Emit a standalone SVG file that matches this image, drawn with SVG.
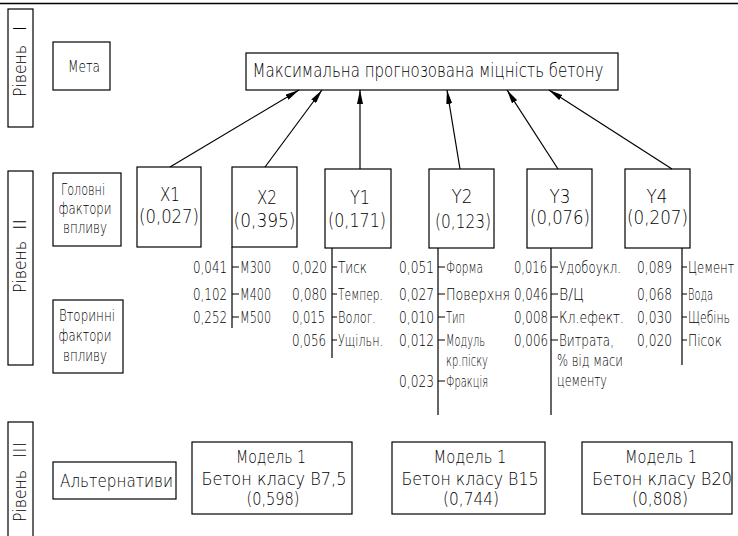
<svg xmlns="http://www.w3.org/2000/svg" width="738" height="536" viewBox="0 0 738 536">
<defs>
<marker id="ah" viewBox="0 0 14 6" refX="14" refY="3" markerWidth="14" markerHeight="6" markerUnits="userSpaceOnUse" orient="auto">
<path d="M0,0 L14,3 L0,6 Z" fill="#000"/>
</marker>
<style>
text{font-family:"DejaVu Sans","Liberation Sans",sans-serif;font-weight:200;fill:#000}
.box{fill:#fff;stroke:#000;stroke-width:1.2}
.ln{stroke:#000;stroke-width:1.2;fill:none}
.arr{stroke:#000;stroke-width:1.2;fill:none;marker-end:url(#ah)}
.t20{font-size:20px}
.t19{font-size:19px}
.t17{font-size:17px}
.t16{font-size:16px}
.t15{font-size:15px}
.c{text-anchor:middle}
</style>
</defs>
<rect width="738" height="536" fill="#fff"/>
<line x1="0" y1="3.5" x2="738" y2="3.5" stroke="#000" stroke-width="1.6"/>

<g id="level1">
<rect class="box" x="8" y="9" width="25" height="118"/>
<text class="t17" transform="translate(26,97) rotate(-90)" textLength="52" lengthAdjust="spacingAndGlyphs">Рівень</text>
<text class="t17" transform="translate(26,31) rotate(-90)">I</text>
</g>
<g id="level2">
<rect class="box" x="8" y="171" width="25" height="194"/>
<text class="t17" transform="translate(26,293) rotate(-90)" textLength="52" lengthAdjust="spacingAndGlyphs">Рівень</text>
<text class="t17" transform="translate(26,230) rotate(-90)" textLength="11" lengthAdjust="spacingAndGlyphs">II</text>
</g>
<g id="level3">
<rect class="box" x="8" y="422" width="25" height="120"/>
<text class="t17" transform="translate(26,522) rotate(-90)" textLength="52" lengthAdjust="spacingAndGlyphs">Рівень</text>
<text class="t17" transform="translate(26,458) rotate(-90)" textLength="16" lengthAdjust="spacingAndGlyphs">III</text>
</g>

<g id="meta">
<rect class="box" x="53" y="42" width="57" height="48"/>
<text class="t16 c" x="84" y="72" textLength="32" lengthAdjust="spacingAndGlyphs">Мета</text>
</g>
<g id="goal">
<rect class="box" x="246" y="53" width="372" height="37"/>
<text class="t20 c" x="428" y="77" textLength="351" lengthAdjust="spacingAndGlyphs">Максимальна прогнозована міцність бетону</text>
</g>

<g id="main-factors-label">
<rect class="box" x="53" y="173" width="68" height="73"/>
<text class="t15 c" x="83" y="195" textLength="44" lengthAdjust="spacingAndGlyphs">Головні</text>
<text class="t15 c" x="85" y="214" textLength="53" lengthAdjust="spacingAndGlyphs">фактори</text>
<text class="t15 c" x="85" y="233" textLength="44" lengthAdjust="spacingAndGlyphs">впливу</text>
</g>
<g id="secondary-factors-label">
<rect class="box" x="53" y="300" width="70" height="73"/>
<text class="t15 c" x="87" y="321" textLength="56" lengthAdjust="spacingAndGlyphs">Вторинні</text>
<text class="t15 c" x="85" y="341" textLength="53" lengthAdjust="spacingAndGlyphs">фактори</text>
<text class="t15 c" x="85" y="361" textLength="44" lengthAdjust="spacingAndGlyphs">впливу</text>
</g>

<g id="X1">
<rect class="box" x="137" y="167" width="64" height="80"/>
<text class="t19 c" x="170" y="201" textLength="20" lengthAdjust="spacingAndGlyphs">X1</text>
<text class="t19 c" x="169" y="223" textLength="60" lengthAdjust="spacingAndGlyphs">(0,027)</text>
</g>
<g id="X2">
<rect class="box" x="232" y="167" width="65" height="80"/>
<text class="t19 c" x="267" y="204" textLength="20" lengthAdjust="spacingAndGlyphs">X2</text>
<text class="t19 c" x="264.5" y="227" textLength="62" lengthAdjust="spacingAndGlyphs">(0,395)</text>
</g>
<g id="Y1">
<rect class="box" x="325" y="169" width="66" height="79"/>
<text class="t19 c" x="360" y="204" textLength="20" lengthAdjust="spacingAndGlyphs">Y1</text>
<text class="t19 c" x="357" y="227" textLength="58" lengthAdjust="spacingAndGlyphs">(0,171)</text>
</g>
<g id="Y2">
<rect class="box" x="429" y="169" width="65" height="79"/>
<text class="t19 c" x="462" y="203" textLength="21" lengthAdjust="spacingAndGlyphs">Y2</text>
<text class="t19 c" x="463" y="228" textLength="56" lengthAdjust="spacingAndGlyphs">(0,123)</text>
</g>
<g id="Y3">
<rect class="box" x="527" y="169" width="65" height="79"/>
<text class="t19 c" x="560" y="203" textLength="21" lengthAdjust="spacingAndGlyphs">Y3</text>
<text class="t19 c" x="560" y="224" textLength="60" lengthAdjust="spacingAndGlyphs">(0,076)</text>
</g>
<g id="Y4">
<rect class="box" x="625" y="169" width="65" height="79"/>
<text class="t19 c" x="657" y="203" textLength="21" lengthAdjust="spacingAndGlyphs">Y4</text>
<text class="t19 c" x="657.5" y="224" textLength="61" lengthAdjust="spacingAndGlyphs">(0,207)</text>
</g>

<g id="connectors">
<line class="arr" x1="170" y1="167" x2="299" y2="90"/>
<line class="arr" x1="265" y1="167" x2="322" y2="90"/>
<line class="arr" x1="360" y1="169" x2="360" y2="90"/>
<line class="arr" x1="460" y1="169" x2="447" y2="90"/>
<line class="arr" x1="558" y1="169" x2="507" y2="90"/>
<line class="arr" x1="672" y1="169" x2="549" y2="90"/>
<path class="ln" d="M232,247 V328 M232,267 H239 M232,294 H239 M232,317 H239"/>
<path class="ln" d="M332,248 V358 M332,267 H337 M332,294 H337 M332,317 H337 M332,340 H337"/>
<path class="ln" d="M438,248 V415 M438,267 H445 M438,294 H445 M438,317 H445 M438,340 H445 M438,381 H445"/>
<path class="ln" d="M551,248 V415 M551,267 H558 M551,294 H558 M551,317 H558 M551,340 H558"/>
<path class="ln" d="M682,248 V365 M682,267 H687 M682,294 H687 M682,317 H687 M682,340 H687"/>
</g>

<g id="secondary-X2">
<text class="t16" x="193" y="273" textLength="34" lengthAdjust="spacingAndGlyphs">0,041</text>
<text class="t16" x="193" y="300" textLength="34" lengthAdjust="spacingAndGlyphs">0,102</text>
<text class="t16" x="193" y="323" textLength="34" lengthAdjust="spacingAndGlyphs">0,252</text>
<text class="t16" x="240" y="273" textLength="31" lengthAdjust="spacingAndGlyphs">М300</text>
<text class="t16" x="240" y="300" textLength="31" lengthAdjust="spacingAndGlyphs">М400</text>
<text class="t16" x="240" y="323" textLength="31" lengthAdjust="spacingAndGlyphs">М500</text>
</g>
<g id="secondary-Y1">
<text class="t16" x="292" y="273" textLength="35" lengthAdjust="spacingAndGlyphs">0,020</text>
<text class="t16" x="292" y="300" textLength="35" lengthAdjust="spacingAndGlyphs">0,080</text>
<text class="t16" x="292" y="323" textLength="33" lengthAdjust="spacingAndGlyphs">0,015</text>
<text class="t16" x="292" y="346" textLength="34" lengthAdjust="spacingAndGlyphs">0,056</text>
<text class="t16" x="338" y="273" textLength="29" lengthAdjust="spacingAndGlyphs">Тиск</text>
<text class="t16" x="338" y="300" textLength="45" lengthAdjust="spacingAndGlyphs">Темпер.</text>
<text class="t16" x="338" y="323" textLength="38" lengthAdjust="spacingAndGlyphs">Волог.</text>
<text class="t16" x="338" y="346" textLength="45" lengthAdjust="spacingAndGlyphs">Ущільн.</text>
</g>
<g id="secondary-Y2">
<text class="t16" x="399" y="273" textLength="35" lengthAdjust="spacingAndGlyphs">0,051</text>
<text class="t16" x="399" y="300" textLength="35" lengthAdjust="spacingAndGlyphs">0,027</text>
<text class="t16" x="399" y="323" textLength="35" lengthAdjust="spacingAndGlyphs">0,010</text>
<text class="t16" x="399" y="346" textLength="35" lengthAdjust="spacingAndGlyphs">0,012</text>
<text class="t16" x="399" y="387" textLength="35" lengthAdjust="spacingAndGlyphs">0,023</text>
<text class="t16" x="446" y="273" textLength="37" lengthAdjust="spacingAndGlyphs">Форма</text>
<text class="t16" x="446" y="300" textLength="64" lengthAdjust="spacingAndGlyphs">Поверхня</text>
<text class="t16" x="446" y="323" textLength="19" lengthAdjust="spacingAndGlyphs">Тип</text>
<text class="t16" x="446" y="346" textLength="39" lengthAdjust="spacingAndGlyphs">Модуль</text>
<text class="t16" x="446" y="366" textLength="42" lengthAdjust="spacingAndGlyphs">кр.піску</text>
<text class="t16" x="446" y="387" textLength="42" lengthAdjust="spacingAndGlyphs">Фракція</text>
</g>
<g id="secondary-Y3">
<text class="t16" x="514" y="273" textLength="33" lengthAdjust="spacingAndGlyphs">0,016</text>
<text class="t16" x="514" y="300" textLength="34" lengthAdjust="spacingAndGlyphs">0,046</text>
<text class="t16" x="514" y="323" textLength="34" lengthAdjust="spacingAndGlyphs">0,008</text>
<text class="t16" x="514" y="346" textLength="34" lengthAdjust="spacingAndGlyphs">0,006</text>
<text class="t16" x="559" y="273" textLength="62" lengthAdjust="spacingAndGlyphs">Удобоукл.</text>
<text class="t16" x="559" y="300" textLength="25" lengthAdjust="spacingAndGlyphs">В/Ц</text>
<text class="t16" x="559" y="323" textLength="65" lengthAdjust="spacingAndGlyphs">Кл.ефект.</text>
<text class="t16" x="559" y="346" textLength="55" lengthAdjust="spacingAndGlyphs">Витрата,</text>
<text class="t16" x="557" y="366" textLength="66" lengthAdjust="spacingAndGlyphs">% від маси</text>
<text class="t16" x="557" y="386" textLength="50" lengthAdjust="spacingAndGlyphs">цементу</text>
</g>
<g id="secondary-Y4">
<text class="t16" x="637" y="273" textLength="35" lengthAdjust="spacingAndGlyphs">0,089</text>
<text class="t16" x="637" y="300" textLength="35" lengthAdjust="spacingAndGlyphs">0,068</text>
<text class="t16" x="637" y="323" textLength="35" lengthAdjust="spacingAndGlyphs">0,030</text>
<text class="t16" x="637" y="346" textLength="35" lengthAdjust="spacingAndGlyphs">0,020</text>
<text class="t16" x="688" y="273" textLength="46" lengthAdjust="spacingAndGlyphs">Цемент</text>
<text class="t16" x="688" y="300" textLength="25" lengthAdjust="spacingAndGlyphs">Вода</text>
<text class="t16" x="688" y="323" textLength="42" lengthAdjust="spacingAndGlyphs">Щебінь</text>
<text class="t16" x="688" y="346" textLength="34" lengthAdjust="spacingAndGlyphs">Пісок</text>
</g>

<g id="alternatives-label">
<rect class="box" x="53" y="462" width="123" height="37"/>
<text class="t17 c" x="116.5" y="487" textLength="113" lengthAdjust="spacingAndGlyphs">Альтернативи</text>
</g>
<g id="model-B7-5">
<rect class="box" x="192" y="442" width="160" height="72"/>
<text class="t17 c" x="271" y="463" textLength="70" lengthAdjust="spacingAndGlyphs">Модель 1</text>
<text class="t17 c" x="274" y="485" textLength="145" lengthAdjust="spacingAndGlyphs">Бетон класу В7,5</text>
<text class="t17 c" x="273" y="505" textLength="53" lengthAdjust="spacingAndGlyphs">(0,598)</text>
</g>
<g id="model-B15">
<rect class="box" x="392" y="442" width="153" height="72"/>
<text class="t17 c" x="470" y="463" textLength="73" lengthAdjust="spacingAndGlyphs">Модель 1</text>
<text class="t17 c" x="470" y="485" textLength="137" lengthAdjust="spacingAndGlyphs">Бетон класу В15</text>
<text class="t17 c" x="471" y="505" textLength="56" lengthAdjust="spacingAndGlyphs">(0,744)</text>
</g>
<g id="model-B20">
<rect class="box" x="582" y="442" width="150" height="72"/>
<text class="t17 c" x="661" y="463" textLength="72" lengthAdjust="spacingAndGlyphs">Модель 1</text>
<text class="t17 c" x="662" y="485" textLength="140" lengthAdjust="spacingAndGlyphs">Бетон класу В20</text>
<text class="t17 c" x="660" y="505" textLength="56" lengthAdjust="spacingAndGlyphs">(0,808)</text>
</g>
</svg>
